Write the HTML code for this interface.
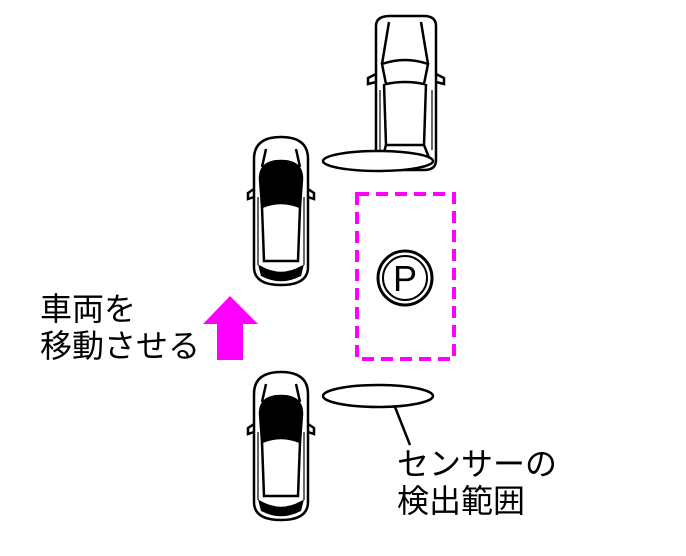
<!DOCTYPE html>
<html><head><meta charset="utf-8"><style>
html,body{margin:0;padding:0;background:#fff;width:686px;height:556px;overflow:hidden}
svg{display:block}
text{font-family:"Liberation Sans","Noto Sans CJK JP",sans-serif;font-size:32px;fill:#000}
</style></head><body>
<svg width="686" height="556" viewBox="0 0 686 556" xmlns="http://www.w3.org/2000/svg">
<defs>
<g id="hatch" fill="none" stroke="#000" stroke-width="2.5">
  <path d="M6,22 Q6,0 33,0 Q60,0 60,22 L60,130 Q60,148 33,148 Q6,148 6,130 Z" fill="#fff"/>
  <path d="M12,42 Q12,24 33,24 Q54,24 54,42 L52,70 Q33,62 14,70 Z" fill="#000"/>
  <path d="M14,70 L16,124 L50,124 L52,70"/>
  <path d="M12,130 Q33,142 54,130 L52,138 Q33,148 14,138 Z" fill="#000"/>
  <path d="M18,12 L14,30 M48,12 L52,30"/>
  <path d="M6,52 L0,56 L0,62 L6,60 M60,52 L66,56 L66,62 L60,60"/>
  <path d="M10,60 L10,128 M56,60 L56,128" stroke-width="1.2"/>
</g>
</defs>
<g fill="none" stroke="#000" stroke-width="2.5">
  <path d="M376,26 Q376,16 390,16 L424,16 Q436,16 436,26 L436,160 Q436,170 424,170 L390,170 Q378,170 376,160 Z" fill="#fff"/>
  <path d="M382,64 Q405,56 428,64 L424,84 Q405,80 386,84 Z"/>
  <path d="M389,22 L382,64 M421,22 L428,64"/>
  <path d="M384,84 L386,145 L424,145 L426,84"/>
  <path d="M386,145 L382,160 M424,145 L430,160"/>
  <path d="M376,74 L368,78 L368,84 L376,82 M436,74 L444,78 L444,84 L436,82"/>
  <path d="M380,90 L380,150 M432,90 L432,150" stroke-width="1.2"/>
</g>
<ellipse cx="378" cy="161" rx="55" ry="10" fill="#fff" stroke="#000" stroke-width="2.5"/>
<use href="#hatch" x="248" y="137"/>
<use href="#hatch" x="248" y="372"/>
<ellipse cx="378" cy="396" rx="55" ry="11" fill="#fff" stroke="#000" stroke-width="2.5"/>
<path d="M395,407 L410,445" stroke="#000" stroke-width="2.5"/>
<rect x="357" y="194" width="97" height="165" fill="none" stroke="#f0f" stroke-width="4" stroke-dasharray="12,7"/>
<circle cx="405" cy="278" r="27" fill="none" stroke="#000" stroke-width="3"/>
<circle cx="405" cy="278" r="22" fill="none" stroke="#000" stroke-width="2"/>
<text x="393" y="291" style="font-size:36px">P</text>
<path d="M230,296 L258,324 L243,324 L243,360 L217,360 L217,324 L203,324 Z" fill="#f0f"/>
<text x="40" y="320">車両を</text>
<text x="40" y="357">移動させる</text>
<text x="397" y="475">センサーの</text>
<text x="397" y="512">検出範囲</text>
</svg>
</body></html>
